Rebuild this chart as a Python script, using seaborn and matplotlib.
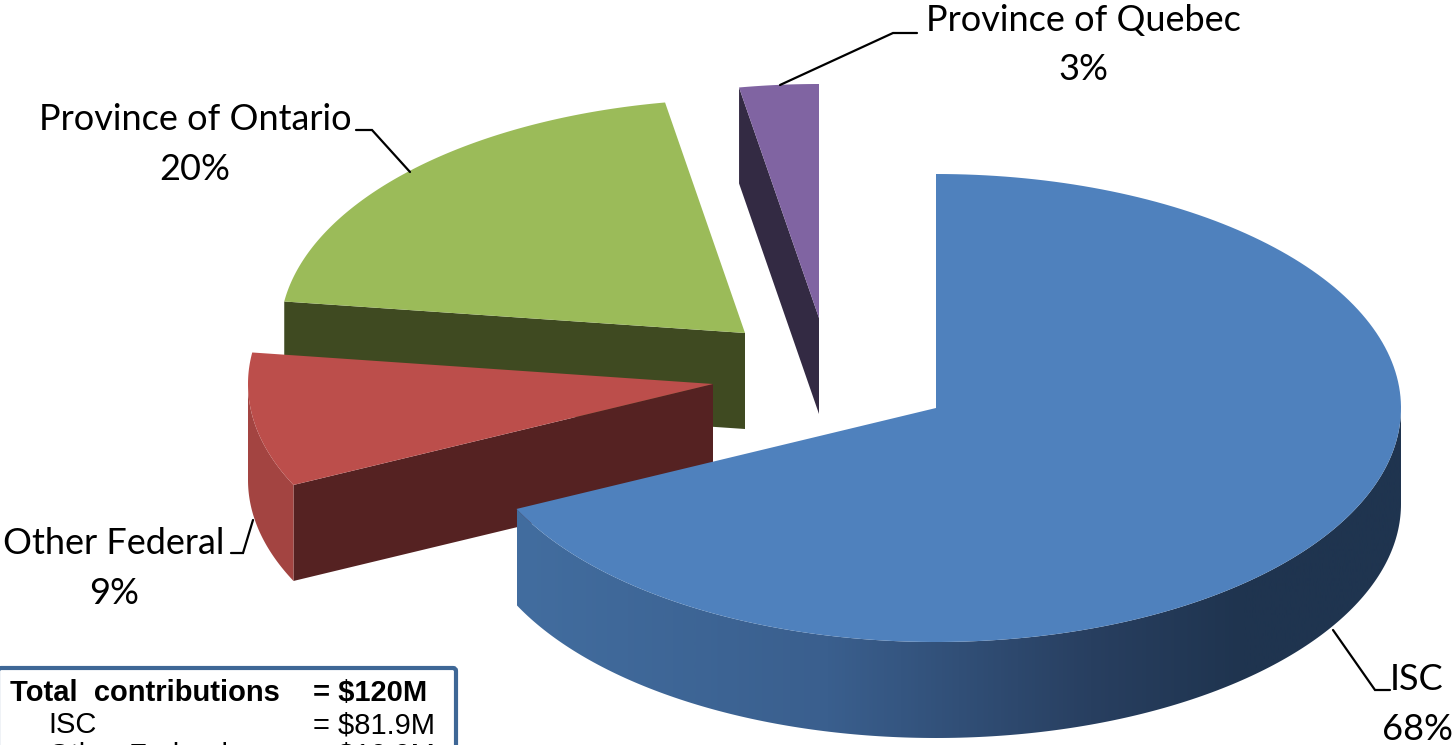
import numpy as np
import matplotlib
matplotlib.use("Agg")
import matplotlib.pyplot as plt
from matplotlib.colors import LinearSegmentedColormap
from matplotlib.patches import Polygon, FancyBboxPatch
import seaborn as sns

# ---- data ----
names = ["ISC", "Other Federal", "Province of Ontario", "Province of Quebec"]
shares = [67.9, 9.25, 20.1, 2.75]
pct_labels = ["68%", "9%", "20%", "3%"]
box_left = ["ISC", "Other Federal"]
box_right = ["= $81.9M", "= $10.9M"]
box_title = ["Total  contributions", "= $120M"]

# ---- styles / layout ----
top_colors = ["#4f81bd", "#bc4e4b", "#9bbb59", "#8064a2"]
cut_colors = [None, "#552222", "#3f4a21", "#332a43"]
RX, RY, DEPTH = 465.0, 234.0, 96.0
apex = {"ISC": (936, 408), "Other Federal": (713, 384),
        "Province of Ontario": (745, 333), "Province of Quebec": (819, 318)}
W, H = 1454, 745

sns.set_theme(style="white")
fig = plt.figure(figsize=(W / 100, H / 100), dpi=100, facecolor="white")
ax = fig.add_axes([0, 0, 1, 1])
ax.axis("off")

# slice angle ranges, clockwise from 12 o'clock
edges = np.cumsum([0] + shares) / sum(shares) * 2 * np.pi


def rim(name, t0, t1, n=200, dz=0):
    cx, cy = apex[name]
    t = np.linspace(t0, t1, n)
    return np.column_stack([cx + RX * np.sin(t), cy - RY * np.cos(t) + dz])


def top_poly(name, t0, t1):
    return np.vstack([apex[name], rim(name, t0, t1)])


def down(p):
    return np.array(p) + [0, DEPTH]


ranges = {n: (edges[i], edges[i + 1]) for i, n in enumerate(names)}

# Quebec
t0, t1 = ranges["Province of Quebec"]
A = np.array(apex["Province of Quebec"])
E = rim("Province of Quebec", t0, t1, 2)[0]
ax.add_patch(Polygon([A, E, down(E), down(A)], fc=cut_colors[3], ec="none"))
ax.add_patch(Polygon(top_poly("Province of Quebec", t0, t1), fc=top_colors[3], ec="none"))

# Ontario
t0, t1 = ranges["Province of Ontario"]
A = np.array(apex["Province of Ontario"])
E = rim("Province of Ontario", t0, t1, 2)[0]
ax.add_patch(Polygon([A, E, down(E), down(A)], fc=cut_colors[2], ec="none"))
ax.add_patch(Polygon(top_poly("Province of Ontario", t0, t1), fc=top_colors[2], ec="none"))

# Other Federal
t0, t1 = ranges["Other Federal"]
A = np.array(apex["Other Federal"])
E = rim("Other Federal", t0, t1, 2)[0]
ax.add_patch(Polygon([A, E, down(E), down(A)], fc=cut_colors[1], ec="none"))
outer = rim("Other Federal", t0, 1.5 * np.pi)
ax.add_patch(Polygon(np.vstack([outer, down(outer)[::-1]]), fc="#a34441", ec="none"))
ax.add_patch(Polygon(top_poly("Other Federal", t0, t1), fc=top_colors[1], ec="none"))

# ISC: graded outer wall, then top
t0, t1 = ranges["ISC"]
outer = rim("ISC", 0.5 * np.pi, t1)
wall = Polygon(np.vstack([outer, down(outer)[::-1]]), fc="none", ec="none")
ax.add_patch(wall)
cmap = LinearSegmentedColormap.from_list(
    "wall", [(0, "#426d9f"), (0.35, "#3a5f8e"), (0.65, "#283f60"), (0.82, "#1f344f"), (1, "#1f344f")])
im = ax.imshow(np.linspace(0, 1, 512)[None, :], cmap=cmap, aspect="auto",
               extent=(outer[:, 0].min(), outer[:, 0].max(), H, 0), zorder=1.5)
im.set_clip_path(wall)
ax.add_patch(Polygon(top_poly("ISC", t0, t1), fc=top_colors[0], ec="none", zorder=2))

ax.set_xlim(0, W)
ax.set_ylim(H, 0)

# labels
label_font = dict(family="Lato", fontsize=26, color="black", ha="center", va="center", zorder=5)
label_pos = {"ISC": (1417, 679, 729), "Other Federal": (114, 544, 593),
             "Province of Ontario": (195, 120, 169), "Province of Quebec": (1083, 21, 70)}
for n, p in zip(names, pct_labels):
    x, y1, y2 = label_pos[n]
    ax.text(x, y1, n, **label_font)
    ax.text(x, y2, p, **label_font)

leaders = [
    ([1333, 1375, 1390], [630, 690, 690]),
    ([253, 243, 231], [520, 553, 553]),
    ([410, 372, 356], [172, 130, 130]),
    ([780, 893, 917], [85, 33, 33]),
]
for xs, ys in leaders:
    ax.plot(xs, ys, color="black", lw=1.6, zorder=4, solid_joinstyle="miter")

# summary box (runs off the bottom of the picture)
ax.add_patch(FancyBboxPatch((-2, 668), 458, 140, boxstyle="round,pad=0,rounding_size=3",
                            fc="white", ec="#3e6796", lw=3, zorder=6))
box_font = dict(family="Liberation Sans", fontsize=21, color="black", va="center", zorder=7)
ax.text(10, 693, box_title[0], fontweight="bold", **box_font)
ax.text(313, 693, box_title[1], fontweight="bold", **box_font)
for i, (l, r) in enumerate(zip(box_left, box_right)):
    y = 725 + i * 31
    ax.text(48, y, l, **box_font)
    ax.text(313, y, r, **box_font)

fig.savefig("out.png", dpi=100, facecolor="white")
